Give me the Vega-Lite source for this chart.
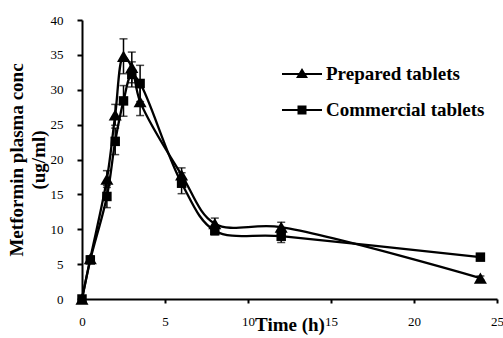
{
  "$schema": "https://vega.github.io/schema/vega-lite/v6.json",
  "width": 415,
  "height": 279,
  "autosize": {"type": "none"},
  "padding": {"left": 82, "top": 20, "right": 6, "bottom": 39},
  "background": "white",
  "config": {"view": {"stroke": null}, "font": "Liberation Serif"},
  "data": {
    "values": [
      {"series": "Prepared tablets", "time": 0, "conc": 0, "sd": 0},
      {"series": "Prepared tablets", "time": 0.5, "conc": 5.8, "sd": 0.4},
      {"series": "Prepared tablets", "time": 1.5, "conc": 17.2, "sd": 1.2},
      {"series": "Prepared tablets", "time": 2, "conc": 26.4, "sd": 1.5},
      {"series": "Prepared tablets", "time": 2.5, "conc": 34.8, "sd": 2.5},
      {"series": "Prepared tablets", "time": 3, "conc": 33.2, "sd": 2.2},
      {"series": "Prepared tablets", "time": 3.5, "conc": 28.3, "sd": 2.0},
      {"series": "Prepared tablets", "time": 6, "conc": 17.8, "sd": 1.0},
      {"series": "Prepared tablets", "time": 8, "conc": 10.8, "sd": 0.8},
      {"series": "Prepared tablets", "time": 12, "conc": 10.3, "sd": 0.7},
      {"series": "Prepared tablets", "time": 24, "conc": 3.0, "sd": 0.3},
      {"series": "Commercial tablets", "time": 0, "conc": 0, "sd": 0},
      {"series": "Commercial tablets", "time": 0.5, "conc": 5.6, "sd": 0.4},
      {"series": "Commercial tablets", "time": 1.5, "conc": 14.7, "sd": 1.6},
      {"series": "Commercial tablets", "time": 2, "conc": 22.6, "sd": 1.9},
      {"series": "Commercial tablets", "time": 2.5, "conc": 28.4, "sd": 2.2},
      {"series": "Commercial tablets", "time": 3, "conc": 32.2, "sd": 1.8},
      {"series": "Commercial tablets", "time": 3.5, "conc": 30.9, "sd": 2.6},
      {"series": "Commercial tablets", "time": 6, "conc": 16.6, "sd": 1.5},
      {"series": "Commercial tablets", "time": 8, "conc": 9.8, "sd": 0.6},
      {"series": "Commercial tablets", "time": 12, "conc": 9.0, "sd": 0.9},
      {"series": "Commercial tablets", "time": 24, "conc": 6.0, "sd": 0.3}
    ]
  },
  "encoding": {
    "x": {
      "field": "time",
      "type": "quantitative",
      "scale": {"domain": [0, 25], "nice": false},
      "axis": {
        "title": "Time (h)",
        "titleFont": "Liberation Serif",
        "titleFontSize": 19,
        "titleFontWeight": "bold",
        "titleColor": "black",
        "titlePadding": -13,
        "values": [0, 5, 10, 15, 20, 25],
        "labelFont": "Liberation Serif",
        "labelFontSize": 13,
        "labelColor": "black",
        "labelPadding": 12,
        "labelFlush": false,
        "tickSize": 4,
        "tickWidth": 2,
        "tickColor": "black",
        "domainWidth": 2,
        "domainColor": "black",
        "grid": false
      }
    },
    "y": {
      "field": "conc",
      "type": "quantitative",
      "scale": {"domain": [0, 40], "nice": false},
      "axis": {
        "title": ["Metformin plasma conc", "(ug/ml)"],
        "titleFont": "Liberation Serif",
        "titleFontSize": 19,
        "titleFontWeight": "bold",
        "titleColor": "black",
        "titleLineHeight": 22,
        "titlePadding": 2,
        "values": [0, 5, 10, 15, 20, 25, 30, 35, 40],
        "labelFont": "Liberation Serif",
        "labelFontSize": 13,
        "labelColor": "black",
        "labelPadding": 14,
        "labelFlush": false,
        "tickSize": 5,
        "tickWidth": 2,
        "tickColor": "black",
        "domainWidth": 2,
        "domainColor": "black",
        "grid": false
      }
    }
  },
  "layer": [
    {
      "mark": {"type": "line", "interpolate": "catmull-rom", "color": "black", "strokeWidth": 2.3},
      "encoding": {"detail": {"field": "series", "type": "nominal"}}
    },
    {
      "mark": {
        "type": "errorbar",
        "ticks": {"size": 8, "thickness": 1.5, "color": "black"},
        "rule": {"strokeWidth": 1.5, "color": "black"}
      },
      "encoding": {
        "yError": {"field": "sd"},
        "detail": {"field": "series", "type": "nominal"}
      }
    },
    {
      "transform": [{"filter": "datum.series === 'Prepared tablets'"}],
      "mark": {"type": "point", "filled": true, "opacity": 1, "shape": "triangle-up", "size": 170},
      "encoding": {
        "color": {
          "field": "series",
          "type": "nominal",
          "scale": {"domain": ["Prepared tablets"], "range": ["black"]},
          "legend": {
            "title": null,
            "orient": "none",
            "legendX": 209,
            "legendY": 43,
            "padding": 0,
            "symbolType": "M-2,-0.1H2V0.1H-2ZM0,-0.6L0.6,0.4L-0.6,0.4Z",
            "symbolSize": 400,
            "symbolOpacity": 1,
            "labelFont": "Liberation Serif",
            "labelFontSize": 19,
            "labelFontWeight": "bold",
            "labelColor": "black",
            "labelOffset": 13
          }
        }
      }
    },
    {
      "transform": [{"filter": "datum.series === 'Commercial tablets'"}],
      "mark": {"type": "point", "filled": true, "opacity": 1, "shape": "square", "size": 90},
      "encoding": {
        "fill": {
          "field": "series",
          "type": "nominal",
          "scale": {"domain": ["Commercial tablets"], "range": ["black"]},
          "legend": {
            "title": null,
            "orient": "none",
            "legendX": 209,
            "legendY": 79,
            "padding": 0,
            "symbolType": "M-2,-0.1H2V0.1H-2ZM-0.45,-0.45H0.45V0.45H-0.45Z",
            "symbolSize": 400,
            "symbolOpacity": 1,
            "labelFont": "Liberation Serif",
            "labelFontSize": 19,
            "labelFontWeight": "bold",
            "labelColor": "black",
            "labelOffset": 13
          }
        }
      }
    }
  ]
}
